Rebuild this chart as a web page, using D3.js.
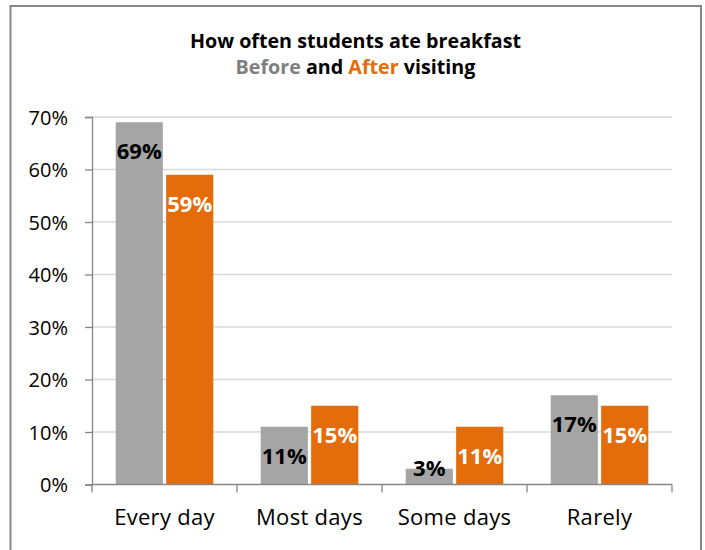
<!DOCTYPE html>
<html>
<head>
<meta charset="utf-8">
<script src="https://cdn.jsdelivr.net/npm/d3@7"></script>
<style>
  html, body { margin: 0; padding: 0; background: #fff; }
  svg { display: block; font-family: "Open Sans", sans-serif; }
</style>
</head>
<body>
<svg id="chart" width="705" height="550"></svg>
<script>
// Breakfast frequency, before and after visiting (percent of students)
const categories = ["Every day", "Most days", "Some days", "Rarely"];
const seriesNames = ["Before", "After"];
const beforeValues = [69, 11, 3, 17];
const afterValues = [59, 15, 11, 15];
const yTicks = [0, 10, 20, 30, 40, 50, 60, 70];

const colors = { Before: "#a5a5a5", After: "#e46c0a" };
const labelColors = { Before: "#000000", After: "#ffffff" };

const svg = d3.select("#chart");

// Outer frame
svg.append("rect")
  .attr("x", 10.5).attr("y", 6)
  .attr("width", 690.5).attr("height", 560)
  .attr("fill", "none")
  .attr("stroke", "#878787")
  .attr("stroke-width", 2);

// Title
const title = svg.append("text")
  .attr("x", 355.5).attr("y", 48)
  .attr("text-anchor", "middle")
  .attr("font-weight", "bold")
  .attr("font-size", 19.7)
  .attr("fill", "#000");
title.text("How often students ate breakfast");

const sub = svg.append("text")
  .attr("x", 355.5).attr("y", 73.5)
  .attr("text-anchor", "middle")
  .attr("font-weight", "bold")
  .attr("font-size", 19.7)
  .attr("fill", "#000");
sub.append("tspan").attr("fill", "#7f7f7f").text("Before");
sub.append("tspan").text(" and ");
sub.append("tspan").attr("fill", colors.After).text("After");
sub.append("tspan").text(" visiting");

// Plot area
const plotLeft = 92, plotRight = 672, plotTop = 117, plotBottom = 484.5;

const y = d3.scaleLinear().domain([0, 70]).range([plotBottom, plotTop]);
const x0 = d3.scaleBand().domain(categories).range([plotLeft, plotRight]).padding(0);
const x1 = d3.scaleBand().domain(seriesNames)
  .range([23.7, x0.bandwidth() - 23.7])
  .paddingInner(0.065).paddingOuter(0);

// Gridlines
svg.append("g").selectAll("line")
  .data(yTicks.filter(d => d > 0))
  .join("line")
  .attr("x1", plotLeft).attr("x2", plotRight)
  .attr("y1", d => y(d)).attr("y2", d => y(d))
  .attr("stroke", "#d9d9d9").attr("stroke-width", 1.3);

// Y axis
const yAxis = svg.append("g")
  .attr("transform", `translate(${plotLeft},0)`)
  .call(d3.axisLeft(y).tickValues(yTicks).tickSize(7).tickPadding(17)
    .tickFormat(d => d + "%"));
yAxis.select(".domain").attr("stroke", "#868686").attr("stroke-width", 1.3);
yAxis.selectAll(".tick line").attr("stroke", "#868686").attr("stroke-width", 1.3);
yAxis.selectAll(".tick text")
  .attr("font-family", "Open Sans, sans-serif")
  .attr("font-size", 20)
  .attr("fill", "#000")
  .attr("dy", "0.36em");

// Bars
const rows = categories.map((c, i) => ({
  category: c,
  values: [
    { series: "Before", value: beforeValues[i] },
    { series: "After", value: afterValues[i] }
  ]
}));

const groups = svg.append("g").selectAll("g")
  .data(rows)
  .join("g")
  .attr("transform", d => `translate(${x0(d.category)},0)`);

groups.selectAll("rect")
  .data(d => d.values)
  .join("rect")
  .attr("x", d => x1(d.series))
  .attr("y", d => y(d.value))
  .attr("width", x1.bandwidth())
  .attr("height", d => y(0) - y(d.value))
  .attr("fill", d => colors[d.series]);

// Value labels, inside the top of each bar
groups.selectAll("text")
  .data(d => d.values)
  .join("text")
  .attr("x", d => x1(d.series) + x1.bandwidth() / 2)
  .attr("y", d => Math.min(y(d.value) + 37, y(0) - 9))
  .attr("text-anchor", "middle")
  .attr("font-weight", "bold")
  .attr("font-size", 22)
  .attr("fill", d => labelColors[d.series])
  .text(d => d.value + "%");

// X axis
const xAxisLine = svg.append("g");
xAxisLine.append("line")
  .attr("x1", plotLeft).attr("x2", plotRight)
  .attr("y1", plotBottom).attr("y2", plotBottom)
  .attr("stroke", "#868686").attr("stroke-width", 1.3);
const boundaries = categories.map(c => x0(c)).concat([x0(categories[categories.length - 1]) + x0.bandwidth()]);
xAxisLine.selectAll("line.tick")
  .data(boundaries)
  .join("line")
  .attr("class", "tick")
  .attr("x1", d => d).attr("x2", d => d)
  .attr("y1", plotBottom).attr("y2", plotBottom + 8)
  .attr("stroke", "#868686").attr("stroke-width", 1.3);

svg.append("g").selectAll("text")
  .data(categories)
  .join("text")
  .attr("x", d => x0(d) + x0.bandwidth() / 2)
  .attr("y", 524.5)
  .attr("text-anchor", "middle")
  .attr("font-size", 22)
  .attr("letter-spacing", 0.3)
  .attr("fill", "#000")
  .text(d => d);
</script>
</body>
</html>
